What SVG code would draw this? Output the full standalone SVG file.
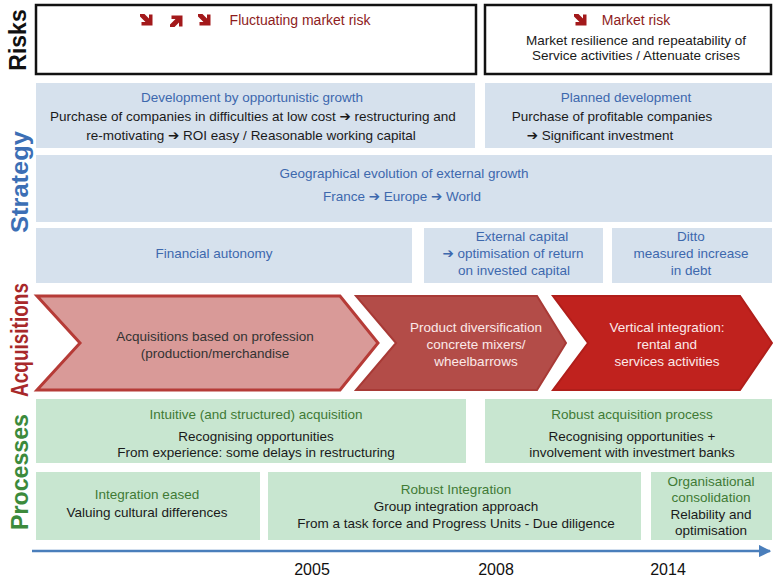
<svg xmlns="http://www.w3.org/2000/svg" width="773" height="579" viewBox="0 0 773 579">
  <defs>
    <style>
      text { font-family: "Liberation Sans", "DejaVu Sans", sans-serif; font-size: 13.5px; text-anchor: middle; }
      .lane { font-size: 23px; font-weight: bold; }
      .risk-box { fill: #ffffff; stroke: #111111; stroke-width: 2.5; }
      .strat { fill: #d6e1ed; }
      .proc { fill: #c8e6d0; }
      .risk-t { fill: #8e1c1c; font-size: 14px; }
      .blue-t { fill: #3d68ad; }
      .green-t { fill: #3f7a35; }
      .dark-t { fill: #1a1a1a; }
      .light-t { fill: #fbe9e9; }
      .year { font-size: 16px; fill: #111111; }
      .ico { fill: #a3191b; }
    </style>
    <marker id="tip" viewBox="0 0 10 10" refX="9" refY="5" markerWidth="5" markerHeight="5" orient="auto">
      <path d="M0,0 L10,5 L0,10 z" fill="#4a7ebb"/>
    </marker>
    <!-- small bold diagonal arrow icon pointing down-right -->
    <path id="dn" d="M0,0 L4.5,0 L9,4.5 L9,0.5 L12.5,0.5 L12.5,11.5 L1.5,11.5 L1.5,8 L5.5,8 L0,2.5 z"/>
  </defs>

  <!-- lane titles -->
  <text class="lane" transform="translate(26,40) rotate(-90)" fill="#111111">Risks</text>
  <text class="lane" transform="translate(28,182) rotate(-90)" fill="#3c6fb5" textLength="102" lengthAdjust="spacingAndGlyphs">Strategy</text>
  <text class="lane" transform="translate(28,340) rotate(-90)" fill="#a8282a" textLength="114" lengthAdjust="spacingAndGlyphs">Acquisitions</text>
  <text class="lane" transform="translate(28,472) rotate(-90)" fill="#3c8a3c" textLength="116" lengthAdjust="spacingAndGlyphs">Processes</text>

  <!-- Risks -->
  <g id="risk-fluctuating">
    <rect class="risk-box" x="36" y="5" width="440" height="69"/>
    <use href="#dn" class="ico" x="140" y="14"/>
    <use href="#dn" class="ico" transform="translate(170,27) scale(1,-1)"/>
    <use href="#dn" class="ico" x="198" y="14"/>
    <text class="risk-t" x="300" y="25">Fluctuating market risk</text>
  </g>
  <g id="risk-market">
    <rect class="risk-box" x="485" y="5" width="286" height="69"/>
    <use href="#dn" class="ico" x="574" y="14"/>
    <text class="risk-t" x="636" y="25">Market risk</text>
    <text class="dark-t" x="636" y="45">Market resilience and repeatability of</text>
    <text class="dark-t" x="636" y="60">Service activities / Attenuate crises</text>
  </g>

  <!-- Strategy -->
  <g id="strategy-opportunistic">
    <rect class="strat" x="36" y="83" width="439" height="65"/>
    <text class="blue-t" x="252" y="102">Development by opportunistic growth</text>
    <text class="dark-t" x="253" y="121">Purchase of companies in difficulties at low cost ➔ restructuring and</text>
    <text class="dark-t" x="251" y="140">re-motivating  ➔  ROI easy / Reasonable working capital</text>
  </g>
  <g id="strategy-planned">
    <rect class="strat" x="485" y="83" width="287" height="65"/>
    <text class="blue-t" x="626" y="102">Planned development</text>
    <text class="dark-t" x="612" y="121">Purchase of profitable companies</text>
    <text class="dark-t" x="600" y="140">➔ Significant investment</text>
  </g>
  <g id="strategy-geography">
    <rect class="strat" x="36" y="155" width="736" height="67"/>
    <text class="blue-t" x="404" y="178">Geographical evolution of external growth</text>
    <text class="blue-t" x="402" y="201">France ➔ Europe ➔ World</text>
  </g>
  <g id="strategy-autonomy">
    <rect class="strat" x="36" y="228" width="376" height="55"/>
    <text class="blue-t" x="214" y="258">Financial autonomy</text>
  </g>
  <g id="strategy-external">
    <rect class="strat" x="424" y="228" width="179" height="55"/>
    <text class="blue-t" x="522" y="241">External capital</text>
    <text class="blue-t" x="513" y="258">➔ optimisation of return</text>
    <text class="blue-t" x="514" y="275">on invested capital</text>
  </g>
  <g id="strategy-ditto">
    <rect class="strat" x="612" y="228" width="160" height="55"/>
    <text class="blue-t" x="691" y="241">Ditto</text>
    <text class="blue-t" x="691" y="258">measured increase</text>
    <text class="blue-t" x="691" y="275">in debt</text>
  </g>

  <!-- Acquisitions -->
  <g id="acq-profession">
    <polygon points="37,296 340,296 378,343 340,390 37,390 80,343" fill="#d99a98" stroke="#b63b37" stroke-width="3" stroke-linejoin="miter"/>
    <text fill="#333333" x="215" y="341">Acquisitions based on profession</text>
    <text fill="#333333" x="215" y="358">(production/merchandise</text>
  </g>
  <g id="acq-diversification">
    <polygon points="356,296 537,296 566,343 537,390 356,390 396,343" fill="#b34c48" stroke="#a83a36" stroke-width="2"/>
    <text class="light-t" x="476" y="332">Product diversification</text>
    <text class="light-t" x="476" y="349">concrete mixers/</text>
    <text class="light-t" x="476" y="366">wheelbarrows</text>
  </g>
  <g id="acq-vertical">
    <polygon points="553,296 740,296 772,343 740,390 553,390 588,343" fill="#c0221e" stroke="#b01e1a" stroke-width="2"/>
    <text class="light-t" x="667" y="332">Vertical integration:</text>
    <text class="light-t" x="667" y="349">rental and</text>
    <text class="light-t" x="667" y="366">services activities</text>
  </g>

  <!-- Processes -->
  <g id="proc-intuitive">
    <rect class="proc" x="36" y="399" width="430" height="64"/>
    <text class="green-t" x="256" y="419">Intuitive (and structured) acquisition</text>
    <text class="dark-t" x="256" y="441">Recognising opportunities</text>
    <text class="dark-t" x="256" y="457">From experience: some delays in restructuring</text>
  </g>
  <g id="proc-robust-acq">
    <rect class="proc" x="485" y="399" width="287" height="64"/>
    <text class="green-t" x="632" y="419">Robust acquisition process</text>
    <text class="dark-t" x="632" y="441">Recognising opportunities +</text>
    <text class="dark-t" x="632" y="457">involvement with investmert banks</text>
  </g>
  <g id="proc-eased">
    <rect class="proc" x="36" y="472" width="224" height="68"/>
    <text class="green-t" x="147" y="499">Integration eased</text>
    <text class="dark-t" x="147" y="517">Valuing cultural differences</text>
  </g>
  <g id="proc-robust-int">
    <rect class="proc" x="268" y="472" width="373" height="68"/>
    <text class="green-t" x="456" y="494">Robust Integration</text>
    <text class="dark-t" x="456" y="511">Group integration approach</text>
    <text class="dark-t" x="456" y="528">From a task force and Progress Units - Due diligence</text>
  </g>
  <g id="proc-consolidation">
    <rect class="proc" x="651" y="472" width="121" height="68"/>
    <text class="green-t" x="711" y="486">Organisational</text>
    <text class="green-t" x="711" y="502">consolidation</text>
    <text class="dark-t" x="711" y="519">Relability and</text>
    <text class="dark-t" x="711" y="535">optimisation</text>
  </g>

  <!-- timeline -->
  <g id="connectors">
    <line x1="32" y1="551" x2="770" y2="551" stroke="#4a7ebb" stroke-width="2.5" marker-end="url(#tip)"/>
  </g>
  <text class="year" x="312" y="575">2005</text>
  <text class="year" x="496" y="575">2008</text>
  <text class="year" x="668" y="575">2014</text>
</svg>
